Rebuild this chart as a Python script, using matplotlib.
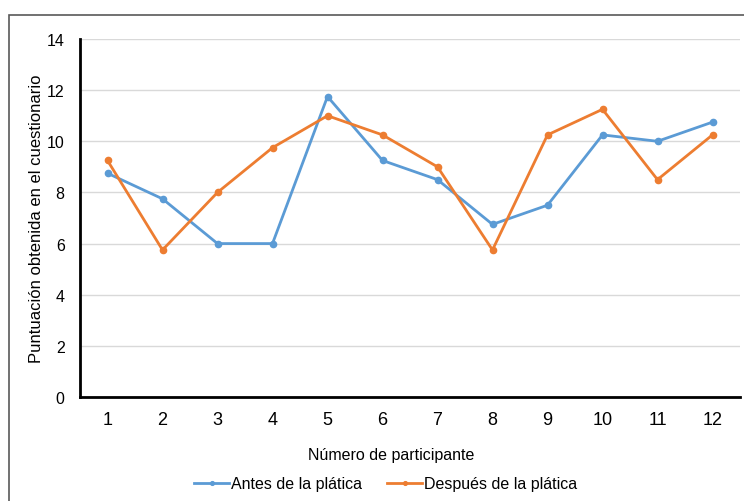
import matplotlib
matplotlib.use("Agg")
from matplotlib import pyplot as plt
from matplotlib.patches import Rectangle

participantes = list(range(1, 13))
antes = [8.75, 7.75, 6, 6, 11.75, 9.25, 8.5, 6.75, 7.5, 10.25, 10, 10.75]
despues = [9.25, 5.75, 8, 9.75, 11, 10.25, 9, 5.75, 10.25, 11.25, 8.5, 10.25]

plt.rcParams["font.family"] = ["Liberation Sans", "DejaVu Sans"]

fig = plt.figure(figsize=(7.44, 5.02), dpi=100)
fig.patches.append(Rectangle((9 / 744, -0.1), 1.2, 1.1 - 16 / 502, transform=fig.transFigure,
                             fill=False, edgecolor="#595959", linewidth=1.2))
ax = fig.add_axes([80 / 744, 104 / 502, 660 / 744, 358 / 502])

ax.plot(participantes, antes, color="#5B9BD5", linewidth=2, marker="o", markersize=4.5,
        label="Antes de la plática")
ax.plot(participantes, despues, color="#ED7D31", linewidth=2, marker="o", markersize=4.5,
        label="Después de la plática")

ax.set_xlim(0.5, 12.5)
ax.set_ylim(0, 14)
ax.set_xticks(participantes)
ax.set_yticks(range(0, 15, 2))
ax.grid(axis="y", color="#d9d9d9", linewidth=1)
ax.set_axisbelow(True)
for s in ["top", "right"]:
    ax.spines[s].set_visible(False)
for s in ["left", "bottom"]:
    ax.spines[s].set_linewidth(2)
    ax.spines[s].set_color("black")
ax.tick_params(axis="both", length=0, colors="#000000")
ax.tick_params(axis="x", labelsize=13, pad=10)
ax.tick_params(axis="y", labelsize=11.5, pad=11)

ax.set_xlabel("Número de participante", fontsize=11.5)
ax.xaxis.set_label_coords(0.472, -0.14)
ax.set_ylabel("Puntuación obtenida en el cuestionario", fontsize=12)
ax.yaxis.set_label_coords(-0.055, 0.5)

ax.legend(loc="center", bbox_to_anchor=(0.463, -0.242), ncol=2, frameon=False,
          fontsize=11.5, handlelength=2.2, handletextpad=0.1, columnspacing=1.6,
          markerscale=0.6)

fig.savefig("out.png", dpi=100)
